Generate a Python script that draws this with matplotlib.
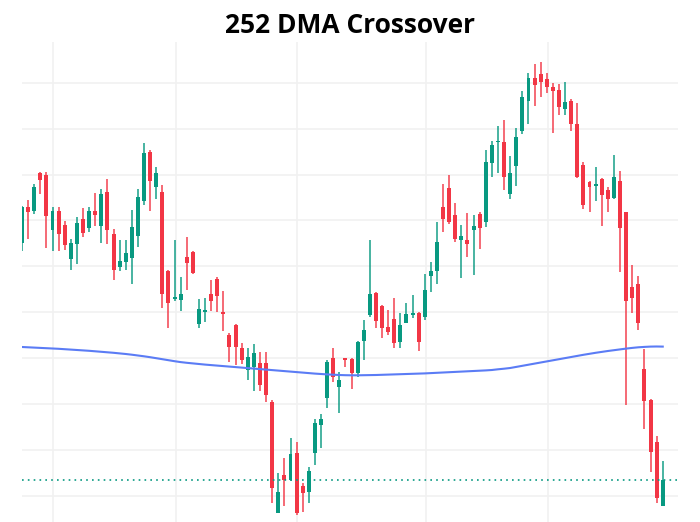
import matplotlib.pyplot as plt
import numpy as np

# Daily candles (arbitrary price scale)
opens = [357, 393, 389, 427, 425, 370, 389, 375, 341, 356,
         381, 372, 389, 374, 408, 366, 333, 338, 342, 364,
         399, 448, 413, 408, 329, 301.5, 300, 343, 348, 276,
         288, 306, 321, 288, 265, 275, 252, 230, 233, 237,
         237, 198, 87, 125, 120, 147, 114, 108, 147, 175,
         202, 242, 213, 242, 241, 227, 259, 285, 307, 294,
         273, 281, 258, 277, 285, 287, 283, 324, 329, 393,
         412, 385, 360, 360, 370, 386, 378, 437, 458, 458,
         406, 434, 469, 499, 522, 526, 521, 513, 510, 491,
         499, 476, 435, 418, 414.5, 421, 410, 402, 419, 388,
         313, 316, 231, 200, 158, 94]
highs = [394, 400, 416, 428, 428, 393, 393, 379, 361, 383,
         392, 393, 407, 411, 421, 371, 360, 360, 390, 411,
         457, 450, 433, 415, 330, 360, 323, 363, 349, 301,
         302, 320, 323, 309, 267, 276, 257, 252, 256, 248,
         248, 200, 127, 142, 162, 158, 117, 133, 181, 186,
         240, 252, 228, 242.5, 242, 259, 280, 360, 308, 295,
         290, 302, 287, 297, 305, 288, 326, 338, 378, 416,
         425, 397, 375, 387, 385, 388, 450, 459, 474, 480,
         444, 472, 509, 527, 536, 538, 527, 517, 516, 518,
         501, 497, 438, 419, 433, 422, 413, 445, 429, 388,
         335, 324, 251, 201, 164, 139]
lows = [349, 361, 386, 406, 352, 349, 349, 350, 330, 336,
        363, 368, 374, 357, 356, 320, 329, 330, 316, 353,
        395, 389, 401, 292, 272, 299, 289, 310, 326, 272,
        278, 289, 288, 269, 238, 235, 236, 220, 209, 209,
        198, 97, 87, 94, 119, 85, 88, 97, 135, 152,
        192, 218, 187, 233, 211, 223, 240, 283, 272, 262,
        265, 252, 252, 277, 282, 249, 280, 308, 316, 368,
        376, 358, 322, 343, 325, 351, 373, 423, 427, 410,
        401, 414, 466, 476, 494, 503, 507, 467, 485, 485,
        469, 422, 391, 388, 399, 374, 388, 401, 328, 195,
        287, 270, 171, 128, 97, 94]
closes = [393, 388, 413, 420, 384, 389, 366, 355, 357, 377,
          367, 389, 385, 406, 370, 330, 339, 347, 373, 403,
          447, 419, 427, 306, 297, 302.5, 306, 337, 327, 291,
          290, 299, 304, 286.5, 253, 253, 240, 243, 247, 215,
          205, 112, 108, 120, 146, 87, 107, 129, 177, 181,
          238, 223, 220, 240, 227, 258, 270, 306, 279, 272,
          268, 257, 275, 286, 287, 258, 310, 329, 358, 381,
          378, 361, 364, 356, 374, 372, 438, 455, 459, 423,
          427, 463, 503, 522, 515, 518, 513, 509, 493, 498,
          476, 423, 395, 413, 415.5, 405, 401, 423, 372, 299,
          302, 277, 199, 148, 102, 120]
dma_252 = [253.0, 252.7, 252.4, 252.1, 251.8, 251.5, 251.2, 250.8, 250.4, 250.0,
           249.6, 249.2, 248.7, 248.2, 247.7, 247.2, 246.6, 246.0, 245.3, 244.5,
           243.7, 242.8, 241.8, 240.8, 239.8, 238.8, 237.9, 237.2, 236.6, 236.0,
           235.4, 234.9, 234.4, 233.9, 233.4, 232.9, 232.4, 231.9, 231.4, 230.9,
           230.4, 229.9, 229.4, 228.9, 228.4, 227.9, 227.4, 226.9, 226.4, 226.0,
           225.6, 225.3, 225.0, 224.8, 224.7, 224.7, 224.8, 224.9, 225.0, 225.2,
           225.4, 225.6, 225.8, 226.0, 226.2, 226.4, 226.6, 226.9, 227.2, 227.5,
           227.8, 228.1, 228.4, 228.7, 229.0, 229.3, 229.6, 230.0, 230.7, 231.3,
           232.0, 233.1, 234.2, 235.3, 236.4, 237.5, 238.6, 239.7, 240.8, 241.9,
           243.0, 244.1, 245.2, 246.2, 247.2, 248.1, 249.0, 249.8, 250.6, 251.4,
           252.1, 252.7, 253.1, 253.4, 253.5, 253.4]
month_starts = [5.0, 25.2, 45.0, 66.2, 86.2]

UP = '#089981'
DOWN = '#f23645'

o = np.array(opens)
c = np.array(closes)
x = np.arange(len(o))
col = [UP if cc >= oo else DOWN for oo, cc in zip(o, c)]

fig = plt.figure(figsize=(7, 5.22), dpi=100)
ax = fig.add_axes([22 / 700, 0, 656 / 700, 480 / 522])

# grid
ax.set_xticks(month_starts)
ax.set_yticks(104 + 45.92 * np.arange(10))
ax.grid(True, color='#f1f1f1', lw=1.2)
ax.set_axisbelow(True)
ax.tick_params(length=0, labelleft=False, labelbottom=False)
for s in ax.spines.values():
    s.set_visible(False)

# candles
ax.vlines(x, lows, highs, colors=col, lw=1.3, alpha=0.8)
body = np.maximum(np.abs(c - o), 1.2)
ax.bar(x, body, bottom=np.minimum(o, c), width=0.65, color=col, lw=0)

ax.plot(x, dma_252, color='#5b7cf5', lw=1.5)
ax.axhline(closes[-1], color=UP, lw=1.2, ls=(0, (1, 2.5)))

ax.set_xlim(0, 107.5)
ax.set_ylim(78, 558)

fig.text(0.5, 0.952, '252 DMA Crossover', ha='center', va='center',
         fontsize=19, fontweight='bold', family='Open Sans')

fig.savefig('out.png', dpi=100)
